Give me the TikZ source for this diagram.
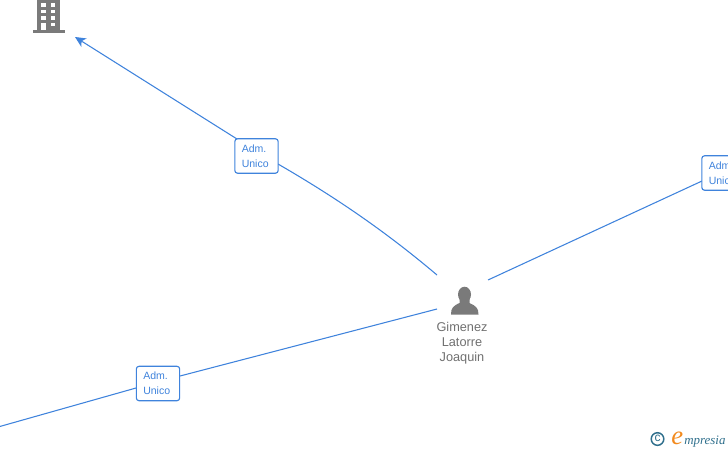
\documentclass[tikz,border=0pt]{standalone}
\usepackage{fontspec}
\setmainfont{Liberation Sans}
\newfontfamily\logofont{Liberation Serif}
\usetikzlibrary{arrows.meta}
\definecolor{linkblue}{HTML}{3F83DC}
\definecolor{icongray}{HTML}{7A7A7A}
\definecolor{textgray}{HTML}{707070}
\definecolor{logoteal}{HTML}{2F6F8C}
\definecolor{logoorange}{HTML}{F28A1E}
\tikzset{
  px/.style={x=0.75pt,y=-0.75pt},
  linkline/.style={draw=linkblue,line width=0.8pt},
  rolebox/.style={draw=linkblue,fill=white,line width=0.85pt,rounded corners=2pt,minimum width=32.5pt,minimum height=25.8pt,inner sep=0pt,text=linkblue},
  roletext/.style={inner sep=0pt,anchor=west,align=left,text=linkblue,font=\fontsize{7.9pt}{11.2pt}\selectfont},
  personname/.style={text=textgray,align=center,inner sep=0pt,font=\fontsize{9.55pt}{11.3pt}\selectfont},
  icon/.style={fill=icongray,draw=none},
  hole/.style={fill=white,draw=none}
}
\begin{document}
\begin{tikzpicture}[px]
\useasboundingbox (0,0) rectangle (728,450);
\clip (0,0) rectangle (728,450);
% free connector ends
\coordinate (buildingtip) at (75,37);
\coordinate (personNW) at (437,275);
\coordinate (personNE) at (488,280);
\coordinate (personSW) at (437,309);
\coordinate (offleft) at (-2,427);
\coordinate (roleAnw) at (237,139);
\coordinate (roleAe) at (278,164);
\coordinate (roleBe) at (180,376);
\coordinate (roleBw) at (136,388);
\coordinate (roleCw) at (702,181);
% connectors
\draw[linkline,-{Stealth[length=8pt,width=7.5pt,inset=2.2pt]}] (roleAnw) -- (buildingtip);
\draw[linkline] (personNW) .. controls (385,231) and (335,197) .. (roleAe);
\draw[linkline] (personNE) -- (roleCw);
\draw[linkline] (personSW) -- (roleBe);
\draw[linkline] (roleBw) -- (offleft);
\node[rolebox] (role1) at (256.5,156) {};
\node[rolebox] (role2) at (158,383.5) {};
\node[rolebox] (role3) at (723.5,173) {};
\node[roletext] (role1text) at (241.5,156) {Adm.\\Unico};
\node[roletext] (role2text) at (143,383.5) {Adm.\\Unico};
\node[roletext] (role3text) at (708.5,173) {Adm.\\Unico};
% building icon
\fill[icon] (37,-1) rectangle (60,30);
\fill[icon] (32.5,29.5) rectangle (64.5,32.5);
\foreach \wy in {3.3,9.8,16.3}{
  \fill[hole] (41.3,\wy) rectangle (45.7,\wy+3.6);
  \fill[hole] (51.3,\wy) rectangle (55.3,\wy+3.6);
}
\fill[hole] (51.3,22.8) rectangle (55.3,26.4);
\fill[hole] (41.3,22.8) rectangle (45.7,30);
% person icon
\fill[icon] (464.5,294.5) ellipse [x radius=6.5,y radius=7.8];
\fill[icon] (451,314.5) .. controls (451,308) and (453,306) .. (459.5,303) -- (459.5,298) -- (469.5,298) -- (469.5,303) .. controls (476,306) and (478.5,308) .. (478.5,314.5) -- cycle;
\node[personname] (personlabel) at (462,343.6) {Gimenez\\Latorre\\Joaquin};
% logo
\draw[logoteal,line width=1.1pt] (657.5,439) circle [radius=6.3];
\node[inner sep=0pt,font=\fontsize{9pt}{9pt}\selectfont,text=logoteal] (copy) at (657.5,438) {c};
\node[inner sep=0pt,anchor=base west,text=logoorange,font=\logofont\itshape\fontsize{20pt}{20pt}\selectfont] (logoe) at (671,444) {e};
\node[inner sep=0pt,anchor=base west,text=logoteal,font=\logofont\itshape\fontsize{9.7pt}{11pt}\selectfont] (logotext) at (684,444) {mpresia};
\end{tikzpicture}
\end{document}
